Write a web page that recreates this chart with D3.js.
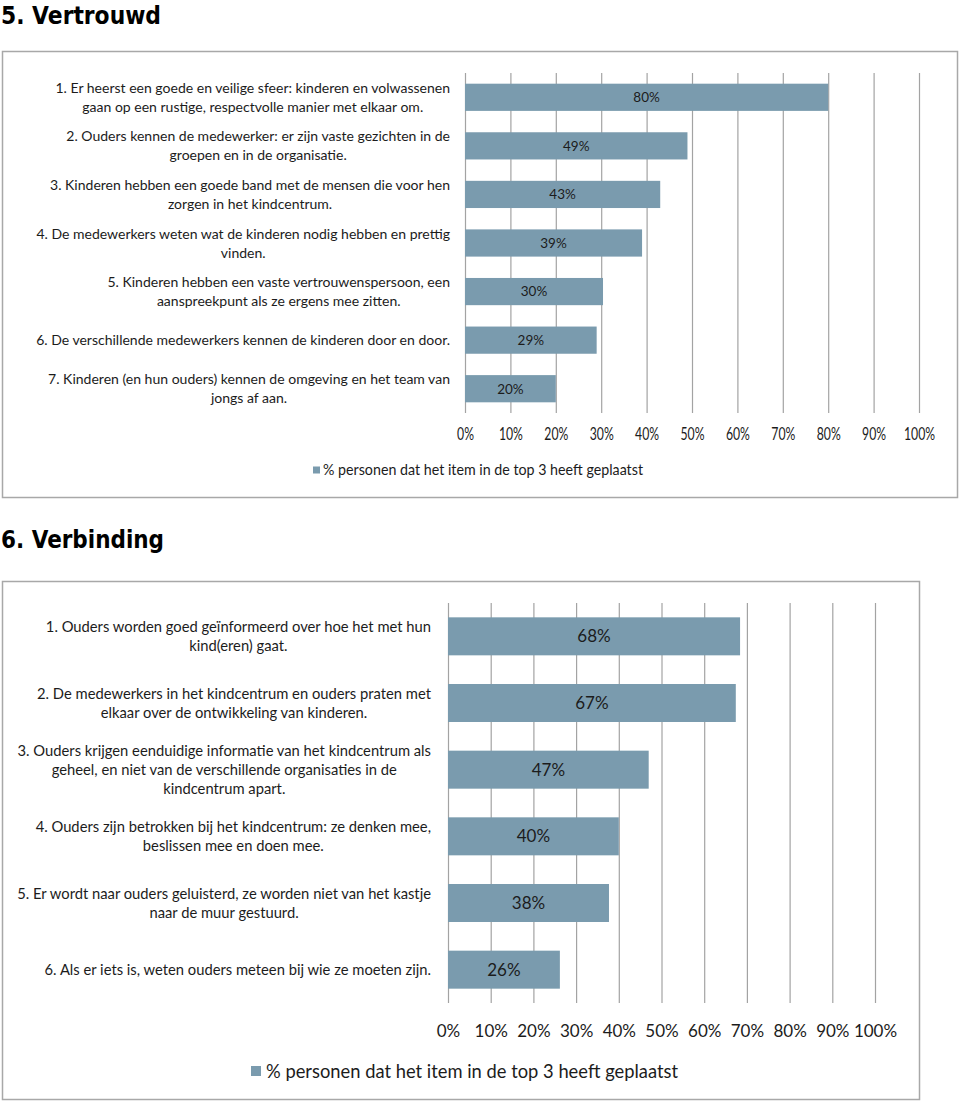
<!DOCTYPE html>
<html><head><meta charset="utf-8">
<script src="https://cdn.jsdelivr.net/npm/d3@7"></script>
<style>body{margin:0;background:#fff}svg{display:block}</style>
</head><body>
<svg id="c" width="960" height="1104"></svg>
<script>
// ---------- data ----------
const titles = ["5.  Vertrouwd", "6.  Verbinding"];

const cats1 = [
  ["1. Er heerst een goede en veilige sfeer: kinderen en volwassenen", "gaan op een rustige, respectvolle manier met elkaar om."],
  ["2. Ouders kennen de medewerker: er zijn vaste gezichten in de", "groepen en in de organisatie."],
  ["3. Kinderen hebben een goede band met de mensen die voor hen", "zorgen in het kindcentrum."],
  ["4. De medewerkers weten wat de kinderen nodig hebben en prettig", "vinden."],
  ["5. Kinderen hebben een vaste vertrouwenspersoon, een", "aanspreekpunt als ze ergens mee zitten."],
  ["6. De verschillende medewerkers kennen de kinderen door en door."],
  ["7. Kinderen (en hun ouders) kennen de omgeving en het team van", "jongs af aan."]
];
const vals1 = [0.80, 0.49, 0.43, 0.39, 0.304, 0.29, 0.20];

const cats2 = [
  ["1. Ouders worden goed geïnformeerd over hoe het met hun", "kind(eren) gaat."],
  ["2. De medewerkers in het kindcentrum en ouders praten met", "elkaar over de ontwikkeling van kinderen."],
  ["3. Ouders krijgen eenduidige informatie van het kindcentrum als", "geheel, en niet van de verschillende organisaties in de", "kindcentrum apart."],
  ["4. Ouders zijn betrokken bij het kindcentrum: ze denken mee,", "beslissen mee en doen mee."],
  ["5. Er wordt naar ouders geluisterd, ze worden niet van het kastje", "naar de muur gestuurd."],
  ["6. Als er iets is, weten ouders meteen bij wie ze moeten zijn."]
];
const vals2 = [0.684, 0.674, 0.47, 0.40, 0.377, 0.262];

const tickValues = [0, 0.1, 0.2, 0.3, 0.4, 0.5, 0.6, 0.7, 0.8, 0.9, 1.0];
const legendText = "% personen dat het item in de top 3 heeft geplaatst";

// ---------- style ----------
const BAR = "#7a9bae";
const GRID = "#a3a3a3";
const TXT = "#1c1c1c";
const FONT = "Lato, 'Open Sans', sans-serif";
const fmt = d3.format(".0%");

const svg = d3.select("#c");

function title(txt, y, w) {
  svg.append("text").attr("x", 1).attr("y", y)
    .attr("font-family", "'DejaVu Sans', Verdana, sans-serif")
    .attr("font-weight", "bold").attr("font-size", 24).attr("fill", "#000")
    .attr("textLength", w).attr("lengthAdjust", "spacingAndGlyphs")
    .text(txt);
}

function drawChart(cats, vals, cfg) {
  const g = svg.append("g");
  g.append("rect").attr("x", cfg.frame[0]).attr("y", cfg.frame[1])
    .attr("width", cfg.frame[2]).attr("height", cfg.frame[3])
    .attr("fill", "#fff").attr("stroke", "#a8a8a8").attr("stroke-width", 1.5);

  const x = d3.scaleLinear().domain([0, 1]).range([cfg.x0, cfg.x1]);
  const y = d3.scaleBand().domain(d3.range(cats.length))
    .range([cfg.yTop, cfg.yBot]).paddingInner(cfg.pad).paddingOuter(cfg.pad / 2);

  // grid / axis
  const ax = g.append("g").attr("transform", `translate(0,${cfg.yBot})`)
    .call(d3.axisBottom(x).tickValues(tickValues).tickFormat(fmt)
      .tickSize(-(cfg.yBot - cfg.yTop)).tickSizeOuter(0));
  ax.select(".domain").remove();
  ax.selectAll(".tick line").attr("stroke", GRID).attr("stroke-width", 1.2);
  ax.selectAll(".tick text")
    .attr("y", cfg.tickY - cfg.yBot).attr("dy", "0.36em")
    .attr("font-family", FONT).attr("font-size", cfg.tickFont).attr("fill", TXT)
    .attr("transform", `scale(${cfg.tickScale},1)`);

  // bars
  g.append("g").selectAll("rect").data(vals).join("rect")
    .attr("x", x(0)).attr("y", (d, i) => y(i))
    .attr("width", d => x(d) - x(0)).attr("height", y.bandwidth())
    .attr("fill", BAR);

  // value labels
  g.append("g").selectAll("text").data(vals).join("text")
    .attr("x", d => (x(0) + x(d)) / 2).attr("y", (d, i) => y(i) + y.bandwidth() / 2)
    .attr("dy", "0.36em").attr("text-anchor", "middle")
    .attr("font-family", FONT).attr("font-size", cfg.valFont).attr("fill", TXT)
    .text(d => fmt(d));

  // category labels
  const lg = g.append("g").attr("font-family", FONT).attr("fill", TXT)
    .attr("font-size", 14);
  const texts = lg.selectAll("text").data(cats).join("text")
    .attr("text-anchor", "middle");
  texts.each(function (lines, i) {
    const t = d3.select(this);
    const cy = y(i) + y.bandwidth() / 2;
    lines.forEach((ln, k) => {
      t.append("tspan").attr("x", 0)
        .attr("y", cy + (k - (lines.length - 1) / 2) * cfg.lineH)
        .attr("dy", "0.36em").text(ln);
    });
  });
  // fit font size so widest line matches
  let maxW = 0;
  lg.selectAll("tspan").each(function () { maxW = Math.max(maxW, this.getComputedTextLength()); });
  const fs = 14 * cfg.labelMaxW / maxW;
  lg.attr("font-size", fs);
  texts.each(function () {
    let w = 0;
    d3.select(this).selectAll("tspan").each(function () { w = Math.max(w, this.getComputedTextLength()); });
    d3.select(this).selectAll("tspan").attr("x", cfg.labelRight - w / 2);
  });

  // legend
  g.append("rect").attr("x", cfg.leg[0]).attr("y", cfg.leg[1] - cfg.legSq / 2)
    .attr("width", cfg.legSq).attr("height", cfg.legSq).attr("fill", BAR);
  g.append("text").attr("x", cfg.leg[2]).attr("y", cfg.leg[1]).attr("dy", "0.36em")
    .attr("font-family", FONT).attr("font-size", cfg.legFont).attr("fill", TXT)
    .attr("textLength", cfg.legW).attr("lengthAdjust", "spacingAndGlyphs")
    .text(legendText);
}

title(titles[0], 24, 160);
drawChart(cats1, vals1, {
  frame: [2.5, 51.5, 955, 446],
  x0: 465, x1: 919, yTop: 73, yBot: 413, pad: 0.44,
  tickY: 434, tickFont: 17, tickScale: 0.72, valFont: 13.5,
  lineH: 19, labelMaxW: 414, labelRight: 450,
  leg: [313, 470, 323], legSq: 7, legFont: 15, legW: 320
});

title(titles[1], 548, 163);
drawChart(cats2, vals2, {
  frame: [2.5, 581.5, 917, 518],
  x0: 448, x1: 875, yTop: 603, yBot: 1003, pad: 0.43,
  tickY: 1031, tickFont: 17, tickScale: 1, valFont: 17,
  lineH: 19, labelMaxW: 414, labelRight: 431,
  leg: [251, 1071, 266], legSq: 10, legFont: 19, legW: 412
});
</script>
</body></html>
